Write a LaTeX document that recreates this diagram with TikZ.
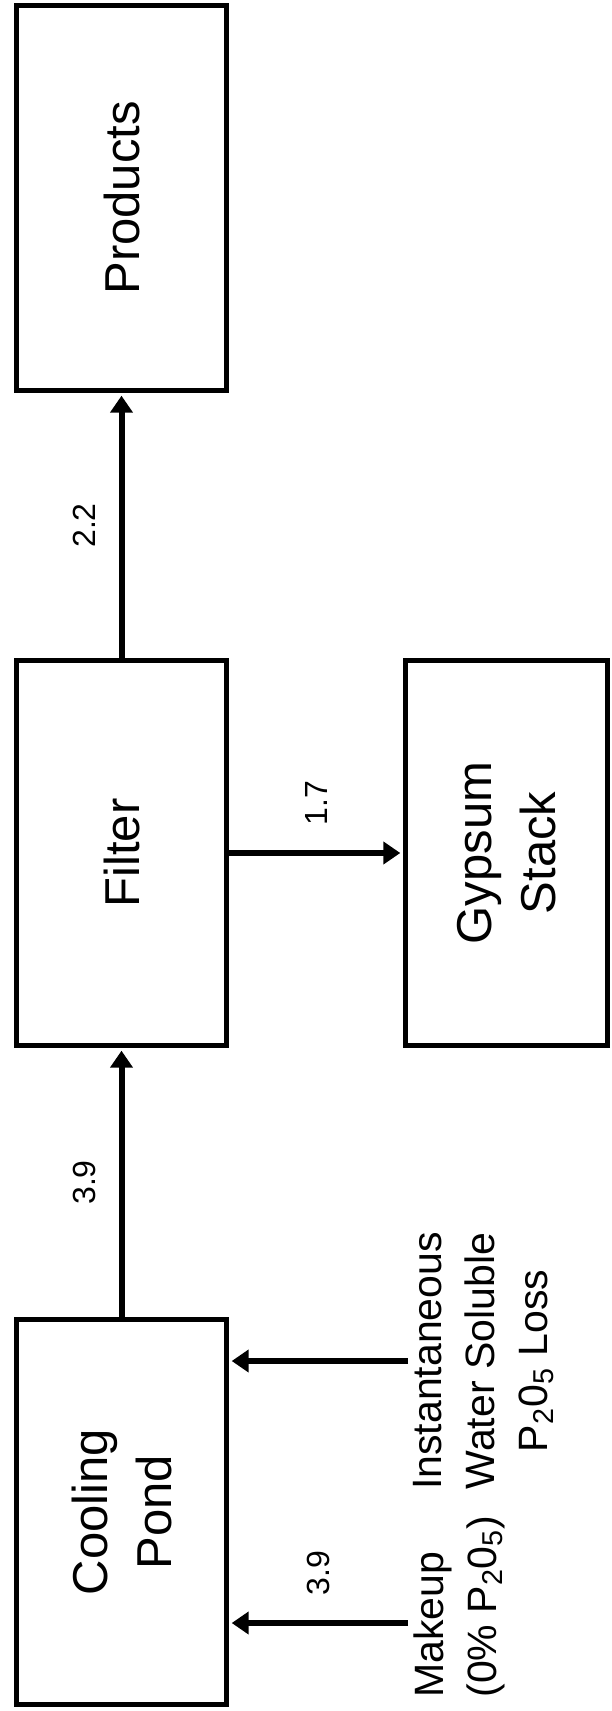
\documentclass[tikz,border=0pt]{standalone}
\usepackage{fontspec}
\setmainfont{Liberation Sans}
\usetikzlibrary{arrows.meta}

\begin{document}
\begin{tikzpicture}[x=0.5pt, y=-0.5pt,
  unitbox/.style={draw, line width=2.6pt, rotate=90, inner sep=0pt,
              align=center, minimum width=192.5pt, minimum height=105pt,
              font=\fontsize{24.5}{32}\selectfont},
  streamtxt/.style={rotate=90, inner sep=2.5pt,
              font=\fontsize{20.5}{26.5}\selectfont},
  rate/.style={rotate=90, font=\fontsize{16}{19}\selectfont},
  flow/.style={-{Triangle[length=8.5pt, width=11pt]}, line width=3pt,
              shorten >=1.3pt}
]
  \useasboundingbox (0,0) rectangle (611,1711);

  % ── Process units ──
  \node[unitbox] (products) at (121.5,198)  {Products};
  \node[unitbox] (filter)   at (121.5,853)  {Filter};
  \node[unitbox] (pond)     at (121.5,1512) {Cooling\\Pond};
  \node[unitbox, minimum height=101pt] (gypsum) at (506.5,853) {Gypsum\\Stack};

  % ── Streams into the pond ──
  \node[streamtxt, align=center, anchor=north] (loss) at (408,1361)
        {Instantaneous\\Water Soluble\\P\textsubscript{2}0\textsubscript{5} Loss};
  \node[streamtxt, align=left, anchor=north west] (makeup) at (408,1703)
        {Makeup\\(0\% P\textsubscript{2}0\textsubscript{5})};
  \coordinate (makeupin) at (408,1623);

  % ── Flows ──
  \foreach \a/\b/\r in {pond/filter/3.9, filter/products/2.2}
    \draw[flow] (\a.east) -- (\b.west)
      node[midway, rate, anchor=south, inner sep=11.5pt] {\r};
  \draw[flow] (filter.south) -- (gypsum.north)
    node[midway, rate, anchor=west, inner sep=12.5pt] {1.7};
  \draw[flow] (makeupin) -- (makeupin -| pond.south)
    node[midway, rate, anchor=west, inner sep=12.5pt] {3.9};
  \draw[flow] (loss.north) -- (loss.north -| pond.south);

\end{tikzpicture}
\end{document}
